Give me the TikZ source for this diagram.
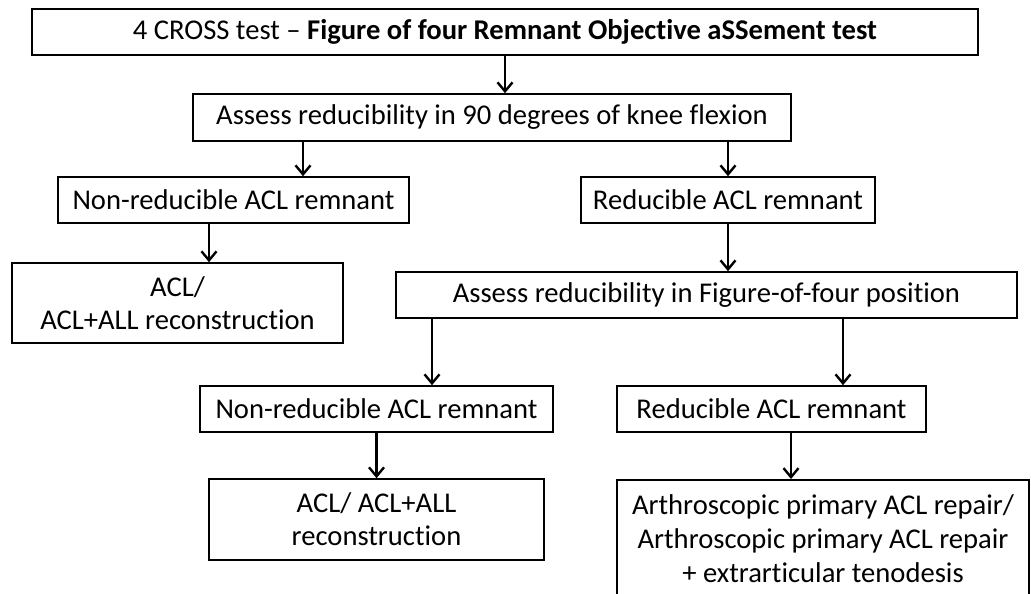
\documentclass[tikz,border=0pt]{standalone}
\usepackage{fontspec}
\setmainfont[Ligatures={NoCommon}]{Carlito}
\usetikzlibrary{arrows.meta,fit}
\begin{document}
\begin{tikzpicture}[x=1pt,y=-1pt,
  box/.style={draw=black, line width=1.6pt, inner sep=0pt, align=center,
    font=\fontsize{28.6pt}{33pt}\selectfont},
  txt/.style={inner sep=0pt, align=center, font=\fontsize{28.6pt}{34pt}\selectfont},
  arr/.style={draw=black, line width=2.4pt, -{Straight Barb[length=9pt,width=15pt,line width=2.4pt]}}]
\fill[white] (0,0) rectangle (1031,594);
\useasboundingbox (0,0) rectangle (1031,594);

\node[box, minimum width=946pt, minimum height=46pt] (top) at (505,32)
  {4 CROSS test -- \textbf{Figure of four Remnant Objective aSSement test}};
\node[box, minimum width=598pt, minimum height=47pt] (b2) at (492,117.5)
  {Assess reducibility in 90 degrees of knee flexion};
\node[box, minimum width=351pt, minimum height=46pt] (nr1) at (233.5,200)
  {Non-reducible ACL remnant};
\node[box, minimum width=294pt, minimum height=46pt] (r1) at (728,200)
  {Reducible ACL remnant};
\node[box, minimum width=331pt, minimum height=80pt] (acl1) at (177.5,303)
  {ACL/\\ACL+ALL reconstruction};
\node[box, minimum width=621pt, minimum height=46pt] (f4) at (706.5,295)
  {Assess reducibility in Figure-of-four position};
\node[box, minimum width=353pt, minimum height=46pt] (nr2) at (376.5,409)
  {Non-reducible ACL remnant};
\node[box, minimum width=309pt, minimum height=46pt] (r2) at (771.5,409)
  {Reducible ACL remnant};
\node[box, minimum width=335pt, minimum height=81pt] (acl2) at (376.5,519.5)
  {ACL/ ACL+ALL\\reconstruction};
\node[box, minimum width=412pt, minimum height=140pt, anchor=north] (arthro) at (823,479) {};
\node[txt] (arthrotext) at (823,539)
  {Arthroscopic primary ACL repair/\\Arthroscopic primary ACL repair\\+ extrarticular tenodesis};

\draw[arr] (top.south) -- ([xshift=13pt]b2.north);
\draw[arr] ([xshift=-189pt]b2.south) -- ([xshift=69.5pt]nr1.north);
\draw[arr] ([xshift=236pt]b2.south) -- (r1.north);
\draw[arr] ([xshift=-24.5pt]nr1.south) -- ([xshift=31.5pt]acl1.north);
\draw[arr] (r1.south) -- ([xshift=21.5pt]f4.north);
\draw[arr] ([xshift=-274.5pt]f4.south) -- ([xshift=55.5pt]nr2.north);
\draw[arr] ([xshift=136.5pt]f4.south) -- ([xshift=71.5pt]r2.north);
\draw[arr] (nr2.south) -- (acl2.north);
\draw[arr] ([xshift=19.5pt]r2.south) -- ([xshift=-32pt]arthro.north);
\end{tikzpicture}
\end{document}
